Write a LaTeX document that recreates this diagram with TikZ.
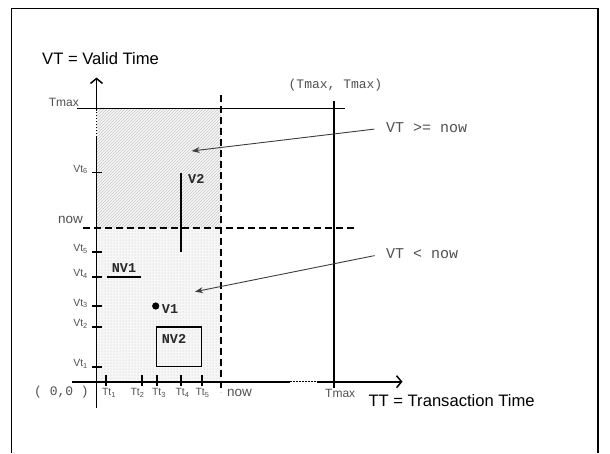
\documentclass[tikz,border=0pt]{standalone}
\usepackage{fontspec}
\setmainfont{Liberation Sans}
\setmonofont{Liberation Mono}
\usetikzlibrary{arrows.meta,patterns}
\definecolor{labelgray}{RGB}{80,80,80}
\definecolor{pointgray}{RGB}{60,60,60}
\definecolor{markgray}{RGB}{40,40,40}
\tikzset{
  axisline/.style={
    draw=black,
    line width=1.8pt
  },
  axisarrow/.style={
    axisline,
    -{Straight Barb[length=5pt,width=12pt,line width=1.5pt]}
  },
  gapline/.style={
    draw=black,
    line width=1.4pt,
    dash pattern=on 1.5pt off 1.5pt
  },
  nowline/.style={
    draw=black,
    line width=1.8pt,
    dash pattern=on 7pt off 4pt
  },
  maxline/.style={
    draw=black,
    line width=0.9pt
  },
  tickmark/.style={
    draw=black,
    line width=1.8pt
  },
  ticklabel/.style={
    font=\fontsize{10.5}{12}\selectfont,
    text=labelgray,
    inner sep=0pt
  },
  axislabel/.style={
    font=\fontsize{16.6}{19}\selectfont,
    inner sep=0pt
  },
  smalllabel/.style={
    text=labelgray,
    inner sep=0pt
  },
  monolabel/.style={
    font=\ttfamily\fontsize{15}{17}\selectfont,
    text=labelgray,
    inner sep=0pt
  },
  factlabel/.style={
    font=\ttfamily\bfseries\fontsize{13.5}{15}\selectfont,
    text=markgray,
    inner sep=0pt
  },
  factline/.style={
    draw=black,
    line width=1.5pt
  },
  pointer/.style={
    draw=pointgray,
    line width=0.9pt,
    -{Stealth[length=8pt,width=6pt]}
  }
}

\begin{document}
\begin{tikzpicture}[x=1pt,y=-1pt]
  \useasboundingbox (0,0) rectangle (610,453);

  % Open page frame (no bottom edge in view).
  \draw[line width=1.5pt] (11.7,453) -- (11.7,8.3) -- (598,8.3) -- (598,453);

  % Shaded regions: valid time above and below now.
  \path[fill=black!3] (96.5,108) rectangle (221,381.7);
  \path[pattern=north east lines, pattern color=black!22] (96.5,108) rectangle (221,227.7);
  \path[pattern=dots, pattern color=black!25] (96.5,227.7) rectangle (221,381.7);

  % Tmax limits and the two now lines.
  \draw[maxline] (77,108) -- (345,108);
  \draw[axisline] (334.3,100.7) -- (334.3,388);
  \draw[nowline] (83,227.7) -- (355,227.7);
  \draw[nowline] (221,95) -- (221,392);

  % Valid time axis.
  \draw[axisline] (96.5,408) -- (96.5,137);
  \draw[gapline] (96.5,137) -- (96.5,111);
  \draw[axisarrow] (96.5,111) -- (96.5,77.5);

  % Transaction time axis.
  \draw[axisline] (72,381.7) -- (290,381.7);
  \draw[gapline] (290,381.7) -- (317,381.7);
  \draw[axisarrow] (317,381.7) -- (402.5,381.7);

  % Ticks on both axes.
  \foreach \y/\i in {366.7/1,326.7/2,306.3/3,277.2/4,252.2/5,172.4/6}{
    \draw[tickmark] (91.5,\y) -- (101.7,\y);
    \node[ticklabel,anchor=east] (vt\i) at (88,\y-3) {Vt\textsubscript{\i}};
  }
  \foreach \x/\lx/\i in {106/109/1,141.7/137.5/2,156.7/159/3,181/182.5/4,201.7/202.5/5}{
    \draw[tickmark] (\x,375) -- (\x,386);
    \node[ticklabel] (tt\i) at (\lx,393) {Tt\textsubscript{\i}};
  }

  % Facts in the plane.
  \draw[factline] (181,173) -- (181,251.7);
  \node[factlabel,anchor=west] (v2) at (188,179) {V2};
  \draw[factline] (106.7,277.2) -- (141,277.2);
  \node[factlabel] (nv1) at (124,268.3) {NV1};
  \fill[black] (155.7,306) circle[radius=3.6];
  \node[factlabel,anchor=west] (v1) at (161.7,309) {V1};
  \draw[factline] (156.7,327) rectangle (201.7,366.7);
  \node[factlabel] (nv2) at (174,339) {NV2};

  % Axis names and limit labels.
  \node[axislabel,anchor=west] (vtname) at (42,59) {VT = Valid Time};
  \node[axislabel,anchor=west] (ttname) at (368.3,401) {TT = Transaction Time};
  \node[smalllabel,anchor=east,font=\fontsize{12}{14}\selectfont] (tmaxv) at (79,102.5) {Tmax};
  \node[smalllabel,anchor=east,font=\fontsize{13.5}{15}\selectfont] (nowv) at (83,220) {now};
  \node[smalllabel,anchor=west,font=\fontsize{12}{14}\selectfont] (tmaxt) at (325,393) {Tmax};
  \node[smalllabel,anchor=west,font=\fontsize{13.5}{15}\selectfont] (nowt) at (227,393) {now};
  \node[monolabel,anchor=east,font=\ttfamily\fontsize{13}{15}\selectfont] (origin) at (89,392) {( 0,0 )};
  \node[monolabel,font=\ttfamily\fontsize{13}{15}\selectfont] (corner) at (335.5,85) {(Tmax, Tmax)};

  % Region labels with their pointers.
  \node[monolabel,anchor=west] (future) at (386,127.7) {VT >= now};
  \node[monolabel,anchor=west] (past) at (386,253.3) {VT < now};
  \coordinate (futuretip) at (191.7,151);
  \coordinate (pasttip) at (195,291.7);
  \draw[pointer,shorten <=11.7pt] (future.west) -- (futuretip);
  \draw[pointer,shorten <=11.7pt] (past.west) -- (pasttip);

\end{tikzpicture}
\end{document}
